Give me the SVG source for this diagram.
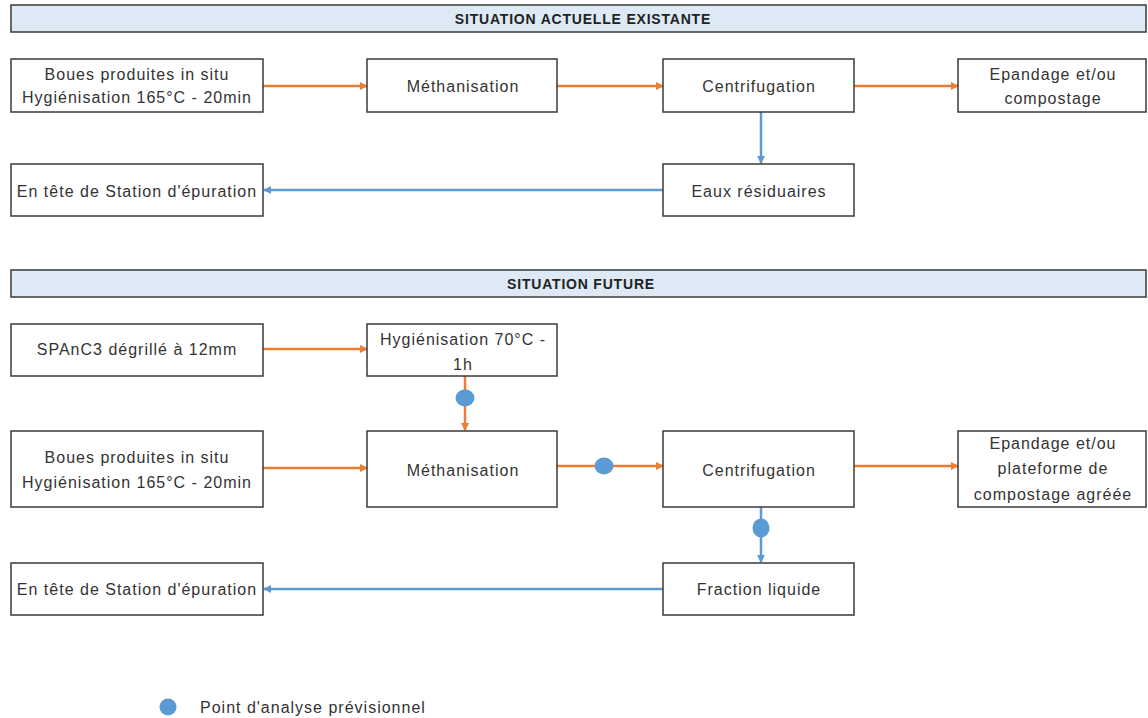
<svg xmlns="http://www.w3.org/2000/svg" width="1148" height="718" viewBox="0 0 1148 718">
<style>
.hdr{fill:#dde9f5;stroke:#3a3a3a;stroke-width:1.5}
.hdrt{font-family:"Liberation Sans",Arial,sans-serif;font-weight:bold;font-size:14px;letter-spacing:0.8px;fill:#222;text-anchor:middle}
.box{fill:#fff;stroke:#3a3a3a;stroke-width:1.5}
.t{font-family:"Liberation Sans",Arial,sans-serif;font-size:16px;letter-spacing:1px;fill:#333;text-anchor:middle}
.or{stroke:#ed7d31;stroke-width:2.5;fill:none;marker-end:url(#ao)}
.bl{stroke:#5b9bd5;stroke-width:2.5;fill:none;marker-end:url(#ab)}
.dot{fill:#5b9bd5}
</style>
<defs>
<marker id="ao" markerWidth="8" markerHeight="8" refX="7" refY="4" orient="auto" markerUnits="userSpaceOnUse"><path d="M0,0 L8,4 L0,8 z" fill="#ed7d31"/></marker>
<marker id="ab" markerWidth="8" markerHeight="8" refX="7" refY="4" orient="auto" markerUnits="userSpaceOnUse"><path d="M0,0 L8,4 L0,8 z" fill="#5b9bd5"/></marker>
</defs>
<rect width="1148" height="718" fill="#fff"/>

<g id="header1"><rect class="hdr" x="11" y="5" width="1135" height="27"/><text class="hdrt" x="583" y="24">SITUATION ACTUELLE EXISTANTE</text></g>
<g id="header2"><rect class="hdr" x="11" y="270" width="1135" height="27"/><text class="hdrt" x="581" y="289">SITUATION FUTURE</text></g>

<g id="connectors">
<line class="or" x1="263" y1="86" x2="367" y2="86"/>
<line class="or" x1="557" y1="86" x2="663" y2="86"/>
<line class="or" x1="854" y1="86" x2="958" y2="86"/>
<line class="bl" x1="761" y1="112" x2="761" y2="163"/>
<line class="bl" x1="663" y1="190" x2="264" y2="190"/>
<line class="or" x1="263" y1="349" x2="367" y2="349"/>
<line class="or" x1="465" y1="376" x2="465" y2="430"/>
<line class="or" x1="263" y1="468" x2="367" y2="468"/>
<line class="or" x1="557" y1="466" x2="663" y2="466"/>
<line class="or" x1="854" y1="466" x2="958" y2="466"/>
<line class="bl" x1="761" y1="507" x2="761" y2="562"/>
<line class="bl" x1="663" y1="589" x2="264" y2="589"/>
</g>

<g id="dots">
<ellipse class="dot" cx="465" cy="398" rx="9.5" ry="8.5"/>
<ellipse class="dot" cx="604" cy="466" rx="9.5" ry="8.5"/>
<ellipse class="dot" cx="761" cy="528" rx="8.5" ry="9.5"/>
</g>

<g id="n1"><rect class="box" x="11" y="59" width="252" height="53"/><text class="t" x="137" y="80">Boues produites in situ</text><text class="t" x="137" y="103">Hygiénisation 165°C - 20min</text></g>
<g id="n2"><rect class="box" x="367" y="59" width="190" height="53"/><text class="t" x="463" y="92">Méthanisation</text></g>
<g id="n3"><rect class="box" x="663" y="59" width="191" height="53"/><text class="t" x="759" y="92">Centrifugation</text></g>
<g id="n4"><rect class="box" x="958" y="59" width="188" height="53"/><text class="t" x="1053" y="80">Epandage et/ou</text><text class="t" x="1053" y="104">compostage</text></g>
<g id="n5"><rect class="box" x="11" y="164" width="252" height="52"/><text class="t" x="137" y="197">En tête de Station d'épuration</text></g>
<g id="n6"><rect class="box" x="663" y="164" width="191" height="52"/><text class="t" x="759" y="197">Eaux résiduaires</text></g>

<g id="f1"><rect class="box" x="11" y="324" width="252" height="52"/><text class="t" x="137" y="355">SPAnC3 dégrillé à 12mm</text></g>
<g id="f2"><rect class="box" x="367" y="324" width="190" height="52"/><text class="t" x="463" y="345">Hygiénisation 70°C -</text><text class="t" x="463" y="370">1h</text></g>
<g id="f3"><rect class="box" x="11" y="431" width="252" height="76"/><text class="t" x="137" y="463">Boues produites in situ</text><text class="t" x="137" y="488">Hygiénisation 165°C - 20min</text></g>
<g id="f4"><rect class="box" x="367" y="431" width="190" height="76"/><text class="t" x="463" y="476">Méthanisation</text></g>
<g id="f5"><rect class="box" x="663" y="431" width="191" height="76"/><text class="t" x="759" y="476">Centrifugation</text></g>
<g id="f6"><rect class="box" x="958" y="431" width="188" height="76"/><text class="t" x="1053" y="449">Epandage et/ou</text><text class="t" x="1053" y="474">plateforme de</text><text class="t" x="1053" y="500">compostage agréée</text></g>
<g id="f7"><rect class="box" x="11" y="563" width="252" height="52"/><text class="t" x="137" y="595">En tête de Station d'épuration</text></g>
<g id="f8"><rect class="box" x="663" y="563" width="191" height="52"/><text class="t" x="759" y="595">Fraction liquide</text></g>

<g id="legend"><ellipse class="dot" cx="168" cy="707" rx="8.5" ry="8.5"/><text x="200" y="713" style="font-family:'Liberation Sans',Arial,sans-serif;font-size:16px;letter-spacing:1px;fill:#333">Point d'analyse prévisionnel</text></g>
</svg>
